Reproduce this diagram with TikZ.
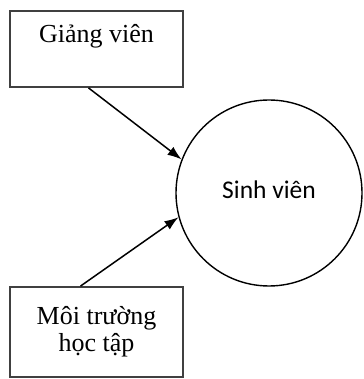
\documentclass[tikz,border=0pt]{standalone}
\usepackage{fontspec}
\setmainfont{Liberation Serif}
\newfontfamily\calibri{Carlito}
\usetikzlibrary{arrows.meta}

\tikzset{
  hop/.style={draw=black!75, line width=1.8pt, minimum width=173pt, inner sep=0pt,
    font=\fontsize{26}{27}\selectfont},
  muiten/.style={line width=1.5pt, -{Latex[length=14pt,width=10pt]}}
}

\begin{document}
\begin{tikzpicture}[x=1pt,y=1pt]
\useasboundingbox (0,0) rectangle (363,379);
\coordinate (G) at (96.5,330);
\node[hop, text height=32pt, text depth=44pt] (gv) at (G) {Giảng viên};
\coordinate (M) at (96.5,47);
\node[hop, minimum height=90pt, align=center] (mt) at (M) {Môi trường\\học tập};
\coordinate (S) at (269,186);
\node[draw, circle, line width=1.4pt, minimum size=186pt, inner sep=0pt,
  text depth=6pt, font=\calibri\fontsize{25.5}{27}\selectfont] (sv) at (S) {Sinh viên};

\draw[muiten] ([xshift=-8pt]gv.south) -- (sv.159);
\draw[muiten] ([xshift=-16pt]mt.north) -- (sv.195);
\end{tikzpicture}
\end{document}
